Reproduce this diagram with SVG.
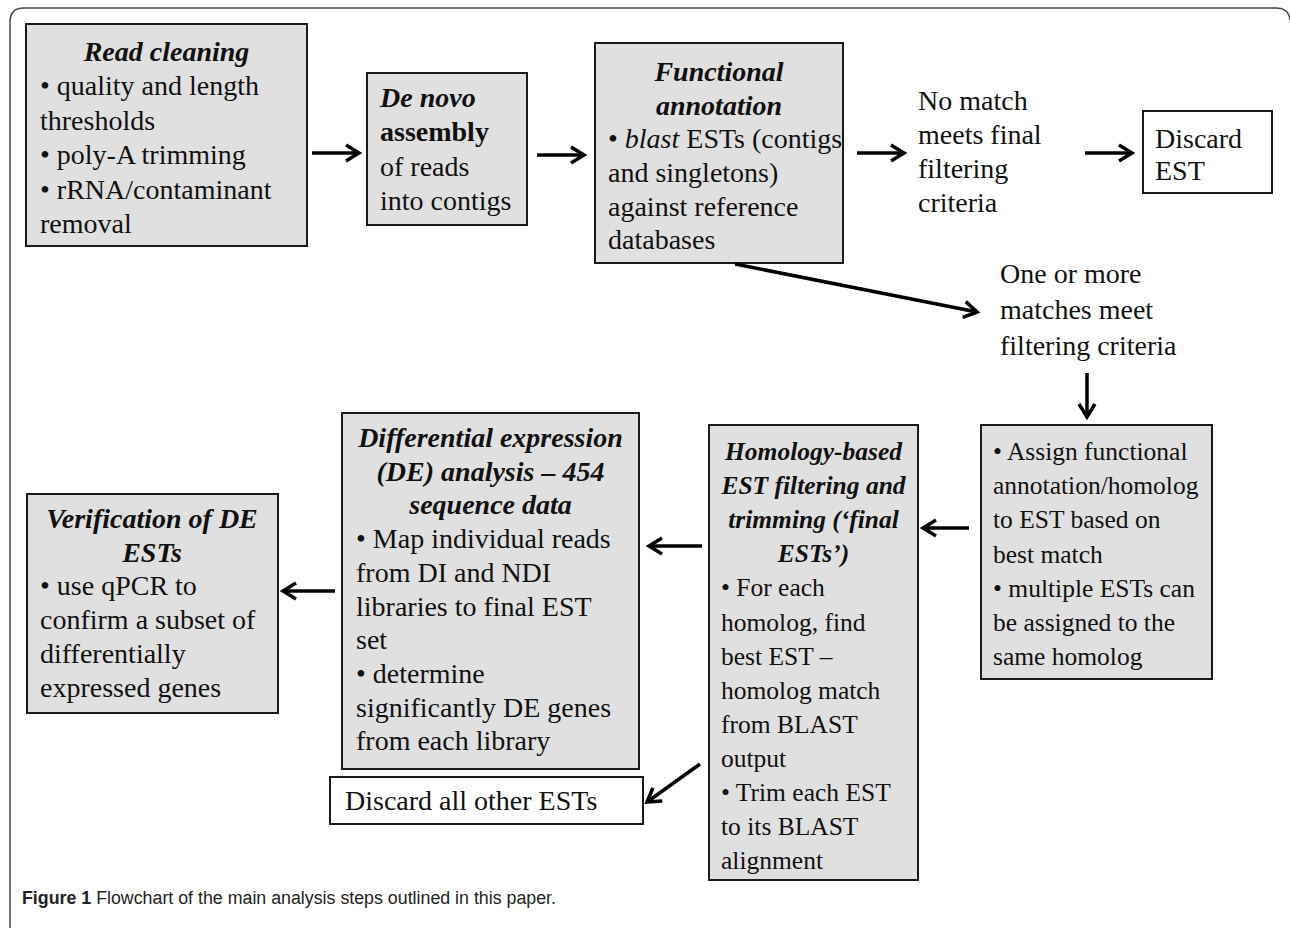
<svg xmlns="http://www.w3.org/2000/svg" width="1290" height="928" viewBox="0 0 1290 928">
<style>
.box{fill:#e0e0e0;stroke:#1a1a1a;stroke-width:2}
.wbox{fill:#fff;stroke:#1a1a1a;stroke-width:2}
text{font-family:"Times New Roman","Liberation Serif",Tinos,Times,serif;font-size:28px;fill:#111}
.sm text{font-size:25.5px}
.t{font-weight:bold;font-style:italic;text-anchor:middle}
.b{font-weight:bold}
.i{font-style:italic}
.conn{stroke:#000;stroke-width:3.5;fill:none}
.cap{font-family:"Liberation Sans",Arial,sans-serif;font-size:18px;fill:#222}
</style>
<defs>
<marker id="arr" viewBox="0 0 20 20" markerWidth="20" markerHeight="20" refX="16" refY="10" orient="auto" markerUnits="userSpaceOnUse">
<path d="M3,2 L16,10 L3,18" fill="none" stroke="#000" stroke-width="3.5"/>
</marker>
</defs>
<path d="M10,928 V22 Q10,8 24,8 H1276 Q1289,8 1290,20" fill="none" stroke="#444" stroke-width="1.5"/>

<g id="read-cleaning">
<rect class="box" x="26" y="24" width="281" height="222"/>
<text class="t" x="166.5" y="61">Read cleaning</text>
<text x="40" y="95.4">• quality and length</text>
<text x="40" y="129.8">thresholds</text>
<text x="40" y="164.2">• poly-A trimming</text>
<text x="40" y="198.6">• rRNA/contaminant</text>
<text x="40" y="233">removal</text>
</g>

<g id="de-novo">
<rect class="box" x="367" y="73" width="160" height="152"/>
<text x="380" y="107" class="b i">De novo</text>
<text x="380" y="141" class="b">assembly</text>
<text x="380" y="175.5">of reads</text>
<text x="380" y="210">into contigs</text>
</g>

<g id="functional-annotation">
<rect class="box" x="595" y="43" width="248" height="220"/>
<text class="t" x="719" y="81">Functional</text>
<text class="t" x="719" y="114.5">annotation</text>
<text x="608" y="148">• <tspan class="i">blast</tspan> ESTs (contigs</text>
<text x="608" y="182">and singletons)</text>
<text x="608" y="215.5">against reference</text>
<text x="608" y="249">databases</text>
</g>

<g id="no-match">
<text x="918" y="110">No match</text>
<text x="918" y="144">meets final</text>
<text x="918" y="178">filtering</text>
<text x="918" y="212">criteria</text>
</g>

<g id="discard-est">
<rect class="wbox" x="1143" y="111" width="129" height="82"/>
<text x="1155" y="147.5">Discard</text>
<text x="1155" y="180">EST</text>
</g>

<g id="matches-meet">
<text x="1000" y="283">One or more</text>
<text x="1000" y="319">matches meet</text>
<text x="1000" y="355">filtering criteria</text>
</g>

<g id="assign" class="sm">
<rect class="box" x="981" y="425" width="231" height="254"/>
<text x="993" y="460">• Assign functional</text>
<text x="993" y="494.2">annotation/homolog</text>
<text x="993" y="528.4">to EST based on</text>
<text x="993" y="562.6">best match</text>
<text x="993" y="596.8">• multiple ESTs can</text>
<text x="993" y="631">be assigned to the</text>
<text x="993" y="665.2">same homolog</text>
</g>

<g id="homology" class="sm">
<rect class="box" x="709" y="425" width="209" height="455"/>
<text class="t" x="813.5" y="460">Homology-based</text>
<text class="t" x="813.5" y="494.1">EST filtering and</text>
<text class="t" x="813.5" y="528.2">trimming (‘final</text>
<text class="t" x="813.5" y="562.3">ESTs’)</text>
<text x="721" y="596.4">• For each</text>
<text x="721" y="630.5">homolog, find</text>
<text x="721" y="664.6">best EST –</text>
<text x="721" y="698.7">homolog match</text>
<text x="721" y="732.8">from BLAST</text>
<text x="721" y="766.9">output</text>
<text x="721" y="801">• Trim each EST</text>
<text x="721" y="835.1">to its BLAST</text>
<text x="721" y="869.2">alignment</text>
</g>

<g id="de-analysis">
<rect class="box" x="342" y="413" width="297" height="356"/>
<text class="t" x="490.5" y="447">Differential expression</text>
<text class="t" x="490.5" y="480.7">(DE) analysis – 454</text>
<text class="t" x="490.5" y="514.4">sequence data</text>
<text x="356" y="548.1">• Map individual reads</text>
<text x="356" y="581.8">from DI and NDI</text>
<text x="356" y="615.5">libraries to final EST</text>
<text x="356" y="649.2">set</text>
<text x="356" y="682.9">• determine</text>
<text x="356" y="716.6">significantly DE genes</text>
<text x="356" y="750.3">from each library</text>
</g>

<g id="verification">
<rect class="box" x="27" y="494" width="251" height="219"/>
<text class="t" x="152" y="528">Verification of DE</text>
<text class="t" x="152" y="561.7">ESTs</text>
<text x="40" y="595.4">• use qPCR to</text>
<text x="40" y="629.1">confirm a subset of</text>
<text x="40" y="662.8">differentially</text>
<text x="40" y="696.5">expressed genes</text>
</g>

<g id="discard-all">
<rect class="wbox" x="330" y="777" width="313" height="47"/>
<text x="345" y="810">Discard all other ESTs</text>
</g>

<g id="connectors">
<line class="conn" x1="312" y1="153" x2="359" y2="153" marker-end="url(#arr)"/>
<line class="conn" x1="537" y1="155" x2="584" y2="155" marker-end="url(#arr)"/>
<line class="conn" x1="857" y1="153" x2="904" y2="153" marker-end="url(#arr)"/>
<line class="conn" x1="1085" y1="153" x2="1132" y2="153" marker-end="url(#arr)"/>
<line class="conn" x1="735" y1="264" x2="977" y2="312" marker-end="url(#arr)"/>
<line class="conn" x1="1087" y1="373" x2="1087" y2="417" marker-end="url(#arr)"/>
<line class="conn" x1="969" y1="528" x2="923" y2="528" marker-end="url(#arr)"/>
<line class="conn" x1="702" y1="546" x2="649" y2="546" marker-end="url(#arr)"/>
<line class="conn" x1="335" y1="591" x2="283" y2="591" marker-end="url(#arr)"/>
<line class="conn" x1="700" y1="764" x2="647" y2="802" marker-end="url(#arr)"/>
</g>

<text class="cap" x="22" y="904" textLength="534" lengthAdjust="spacingAndGlyphs"><tspan font-weight="bold">Figure 1</tspan> Flowchart of the main analysis steps outlined in this paper.</text>
</svg>
